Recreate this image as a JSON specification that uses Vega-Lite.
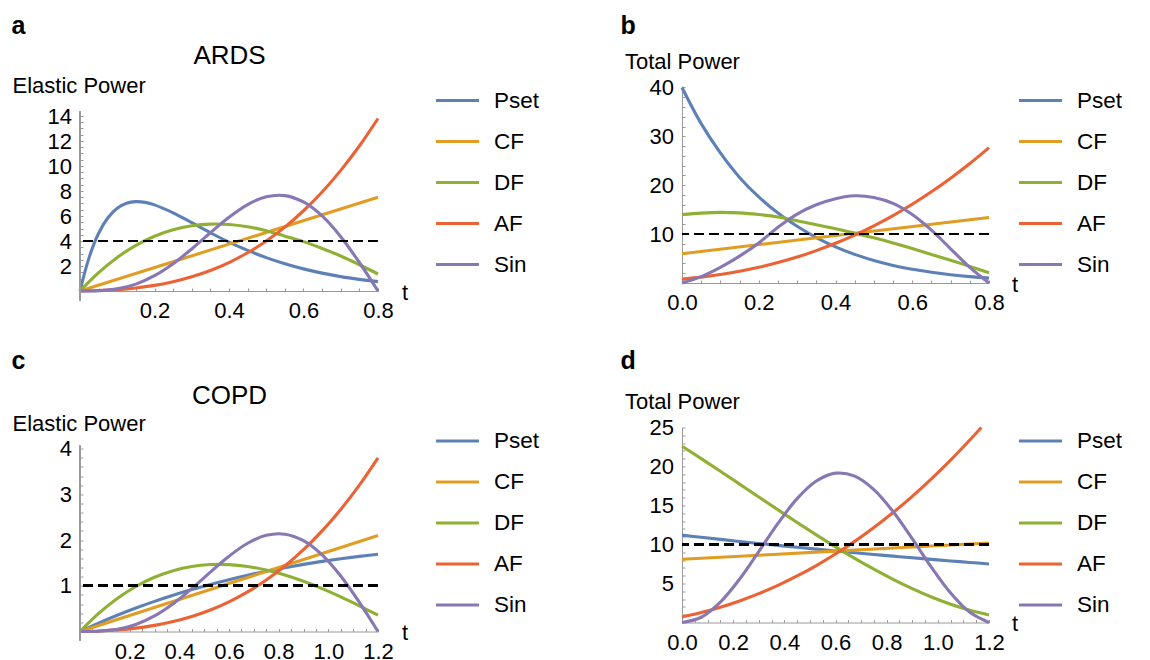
{
  "$schema": "https://vega.github.io/schema/vega-lite/v6.json",
  "background": "white",
  "padding": {"left": 11, "top": 13, "right": 0, "bottom": 0},
  "bounds": "flush",
  "columns": 2,
  "spacing": {"row": 136.5, "column": 304},
  "resolve": {"scale": {"color": "independent"}, "legend": {"color": "independent"}},
  "config": {
    "view": {"stroke": null},
    "font": "Liberation Sans",
    "axis": {
      "labelFont": "Liberation Sans", "labelFontSize": 22, "labelColor": "black",
      "titleFont": "Liberation Sans", "titleColor": "black", "titleFontWeight": "normal", "titleFontSize": 22,
      "tickColor": "#9a9a9a", "domainColor": "#9a9a9a", "tickWidth": 1, "domainWidth": 1,
      "grid": false, "labelFlush": false, "labelOverlap": false, "labelBound": false
    },
    "legend": {
      "labelFont": "Liberation Sans", "labelFontSize": 22.5, "labelColor": "black",
      "symbolType": "stroke", "symbolSize": 1850, "symbolStrokeWidth": 3,
      "labelOffset": 13, "rowPadding": 6, "padding": 0, "offset": 0
    }
  },
  "datasets": {
    "A": [
      {"t":0,"v":0,"s":"Pset"},{"t":0.025,"v":2.73,"s":"Pset"},{"t":0.05,"v":4.62,"s":"Pset"},{"t":0.075,"v":5.86,"s":"Pset"},{"t":0.1,"v":6.62,"s":"Pset"},{"t":0.125,"v":7.02,"s":"Pset"},{"t":0.15,"v":7.15,"s":"Pset"},{"t":0.175,"v":7.09,"s":"Pset"},{"t":0.2,"v":6.89,"s":"Pset"},{"t":0.25,"v":6.25,"s":"Pset"},{"t":0.3,"v":5.47,"s":"Pset"},{"t":0.35,"v":4.66,"s":"Pset"},{"t":0.4,"v":3.91,"s":"Pset"},{"t":0.45,"v":3.25,"s":"Pset"},{"t":0.5,"v":2.67,"s":"Pset"},{"t":0.55,"v":2.18,"s":"Pset"},{"t":0.6,"v":1.77,"s":"Pset"},{"t":0.65,"v":1.43,"s":"Pset"},{"t":0.7,"v":1.15,"s":"Pset"},{"t":0.75,"v":0.93,"s":"Pset"},{"t":0.8,"v":0.75,"s":"Pset"},
      {"t":0,"v":0,"s":"CF"},{"t":0.4,"v":3.75,"s":"CF"},{"t":0.8,"v":7.5,"s":"CF"},
      {"t":0,"v":0,"s":"DF"},{"t":0.05,"v":1.475,"s":"DF"},{"t":0.1,"v":2.686,"s":"DF"},{"t":0.15,"v":3.65,"s":"DF"},{"t":0.2,"v":4.382,"s":"DF"},{"t":0.25,"v":4.899,"s":"DF"},{"t":0.3,"v":5.217,"s":"DF"},{"t":0.35,"v":5.352,"s":"DF"},{"t":0.4,"v":5.321,"s":"DF"},{"t":0.45,"v":5.139,"s":"DF"},{"t":0.5,"v":4.823,"s":"DF"},{"t":0.55,"v":4.389,"s":"DF"},{"t":0.6,"v":3.95,"s":"DF"},{"t":0.65,"v":3.4,"s":"DF"},{"t":0.7,"v":2.8,"s":"DF"},{"t":0.75,"v":2.1,"s":"DF"},{"t":0.8,"v":1.36,"s":"DF"},
      {"t":0,"v":0,"s":"AF"},{"t":0.05,"v":0.034,"s":"AF"},{"t":0.1,"v":0.11,"s":"AF"},{"t":0.15,"v":0.244,"s":"AF"},{"t":0.2,"v":0.449,"s":"AF"},{"t":0.25,"v":0.74,"s":"AF"},{"t":0.3,"v":1.132,"s":"AF"},{"t":0.35,"v":1.639,"s":"AF"},{"t":0.4,"v":2.276,"s":"AF"},{"t":0.45,"v":3.058,"s":"AF"},{"t":0.5,"v":3.999,"s":"AF"},{"t":0.55,"v":5.11,"s":"AF"},{"t":0.6,"v":6.42,"s":"AF"},{"t":0.65,"v":7.92,"s":"AF"},{"t":0.7,"v":9.65,"s":"AF"},{"t":0.75,"v":11.6,"s":"AF"},{"t":0.8,"v":13.8,"s":"AF"},
      {"t":0,"v":0,"s":"Sin"},{"t":0.05,"v":0.022,"s":"Sin"},{"t":0.1,"v":0.172,"s":"Sin"},{"t":0.15,"v":0.552,"s":"Sin"},{"t":0.2,"v":1.222,"s":"Sin"},{"t":0.25,"v":2.18,"s":"Sin"},{"t":0.3,"v":3.365,"s":"Sin"},{"t":0.35,"v":4.658,"s":"Sin"},{"t":0.4,"v":5.9,"s":"Sin"},{"t":0.45,"v":6.916,"s":"Sin"},{"t":0.5,"v":7.537,"s":"Sin"},{"t":0.55,"v":7.632,"s":"Sin"},{"t":0.6,"v":7.122,"s":"Sin"},{"t":0.65,"v":6.004,"s":"Sin"},{"t":0.7,"v":4.344,"s":"Sin"},{"t":0.75,"v":2.28,"s":"Sin"},{"t":0.8,"v":0,"s":"Sin"}
    ],
    "B": [
      {"t":0,"v":40,"s":"Pset"},{"t":0.05,"v":32.6,"s":"Pset"},{"t":0.1,"v":26.6,"s":"Pset"},{"t":0.15,"v":21.6,"s":"Pset"},{"t":0.2,"v":17.6,"s":"Pset"},{"t":0.25,"v":14.3,"s":"Pset"},{"t":0.3,"v":11.6,"s":"Pset"},{"t":0.35,"v":9.3,"s":"Pset"},{"t":0.4,"v":7.4,"s":"Pset"},{"t":0.45,"v":5.85,"s":"Pset"},{"t":0.5,"v":4.6,"s":"Pset"},{"t":0.55,"v":3.6,"s":"Pset"},{"t":0.6,"v":2.8,"s":"Pset"},{"t":0.65,"v":2.2,"s":"Pset"},{"t":0.7,"v":1.7,"s":"Pset"},{"t":0.75,"v":1.3,"s":"Pset"},{"t":0.8,"v":1.0,"s":"Pset"},
      {"t":0,"v":6.0,"s":"CF"},{"t":0.4,"v":9.7,"s":"CF"},{"t":0.8,"v":13.4,"s":"CF"},
      {"t":0,"v":14.0,"s":"DF"},{"t":0.05,"v":14.3,"s":"DF"},{"t":0.1,"v":14.45,"s":"DF"},{"t":0.15,"v":14.35,"s":"DF"},{"t":0.2,"v":14.0,"s":"DF"},{"t":0.25,"v":13.5,"s":"DF"},{"t":0.3,"v":12.75,"s":"DF"},{"t":0.35,"v":11.9,"s":"DF"},{"t":0.4,"v":11.1,"s":"DF"},{"t":0.45,"v":10.2,"s":"DF"},{"t":0.5,"v":9.25,"s":"DF"},{"t":0.55,"v":8.2,"s":"DF"},{"t":0.6,"v":7.05,"s":"DF"},{"t":0.65,"v":5.85,"s":"DF"},{"t":0.7,"v":4.65,"s":"DF"},{"t":0.75,"v":3.4,"s":"DF"},{"t":0.8,"v":2.1,"s":"DF"},
      {"t":0,"v":0.8,"s":"AF"},{"t":0.05,"v":1.2,"s":"AF"},{"t":0.1,"v":1.72,"s":"AF"},{"t":0.15,"v":2.39,"s":"AF"},{"t":0.2,"v":3.2,"s":"AF"},{"t":0.25,"v":4.17,"s":"AF"},{"t":0.3,"v":5.31,"s":"AF"},{"t":0.35,"v":6.63,"s":"AF"},{"t":0.4,"v":8.12,"s":"AF"},{"t":0.45,"v":9.8,"s":"AF"},{"t":0.5,"v":11.7,"s":"AF"},{"t":0.55,"v":13.8,"s":"AF"},{"t":0.6,"v":16.11,"s":"AF"},{"t":0.65,"v":18.65,"s":"AF"},{"t":0.7,"v":21.43,"s":"AF"},{"t":0.75,"v":24.44,"s":"AF"},{"t":0.8,"v":27.7,"s":"AF"},
      {"t":0,"v":0,"s":"Sin"},{"t":0.05,"v":1.3,"s":"Sin"},{"t":0.1,"v":3.2,"s":"Sin"},{"t":0.15,"v":5.5,"s":"Sin"},{"t":0.2,"v":8.2,"s":"Sin"},{"t":0.25,"v":11.4,"s":"Sin"},{"t":0.3,"v":14.1,"s":"Sin"},{"t":0.35,"v":16.0,"s":"Sin"},{"t":0.4,"v":17.25,"s":"Sin"},{"t":0.45,"v":17.85,"s":"Sin"},{"t":0.5,"v":17.5,"s":"Sin"},{"t":0.55,"v":16.3,"s":"Sin"},{"t":0.6,"v":14.0,"s":"Sin"},{"t":0.65,"v":10.8,"s":"Sin"},{"t":0.7,"v":7.0,"s":"Sin"},{"t":0.75,"v":3.2,"s":"Sin"},{"t":0.8,"v":0,"s":"Sin"}
    ],
    "C": [
      {"t":0,"v":0,"s":"Pset"},{"t":0.075,"v":0.184,"s":"Pset"},{"t":0.15,"v":0.355,"s":"Pset"},{"t":0.225,"v":0.513,"s":"Pset"},{"t":0.3,"v":0.659,"s":"Pset"},{"t":0.375,"v":0.793,"s":"Pset"},{"t":0.45,"v":0.917,"s":"Pset"},{"t":0.525,"v":1.031,"s":"Pset"},{"t":0.6,"v":1.135,"s":"Pset"},{"t":0.675,"v":1.231,"s":"Pset"},{"t":0.75,"v":1.318,"s":"Pset"},{"t":0.825,"v":1.397,"s":"Pset"},{"t":0.9,"v":1.469,"s":"Pset"},{"t":0.975,"v":1.534,"s":"Pset"},{"t":1.05,"v":1.592,"s":"Pset"},{"t":1.125,"v":1.644,"s":"Pset"},{"t":1.2,"v":1.691,"s":"Pset"},
      {"t":0,"v":0,"s":"CF"},{"t":0.6,"v":1.05,"s":"CF"},{"t":1.2,"v":2.1,"s":"CF"},
      {"t":0,"v":0,"s":"DF"},{"t":0.075,"v":0.396,"s":"DF"},{"t":0.15,"v":0.723,"s":"DF"},{"t":0.225,"v":0.985,"s":"DF"},{"t":0.3,"v":1.186,"s":"DF"},{"t":0.375,"v":1.33,"s":"DF"},{"t":0.45,"v":1.422,"s":"DF"},{"t":0.525,"v":1.465,"s":"DF"},{"t":0.6,"v":1.464,"s":"DF"},{"t":0.675,"v":1.422,"s":"DF"},{"t":0.75,"v":1.345,"s":"DF"},{"t":0.825,"v":1.235,"s":"DF"},{"t":0.9,"v":1.098,"s":"DF"},{"t":0.975,"v":0.937,"s":"DF"},{"t":1.05,"v":0.757,"s":"DF"},{"t":1.125,"v":0.562,"s":"DF"},{"t":1.2,"v":0.356,"s":"DF"},
      {"t":0,"v":0,"s":"AF"},{"t":0.075,"v":0.011,"s":"AF"},{"t":0.15,"v":0.035,"s":"AF"},{"t":0.225,"v":0.074,"s":"AF"},{"t":0.3,"v":0.134,"s":"AF"},{"t":0.375,"v":0.217,"s":"AF"},{"t":0.45,"v":0.329,"s":"AF"},{"t":0.525,"v":0.471,"s":"AF"},{"t":0.6,"v":0.649,"s":"AF"},{"t":0.675,"v":0.866,"s":"AF"},{"t":0.75,"v":1.126,"s":"AF"},{"t":0.825,"v":1.432,"s":"AF"},{"t":0.9,"v":1.789,"s":"AF"},{"t":0.975,"v":2.201,"s":"AF"},{"t":1.05,"v":2.671,"s":"AF"},{"t":1.125,"v":3.203,"s":"AF"},{"t":1.2,"v":3.8,"s":"AF"},
      {"t":0,"v":0,"s":"Sin"},{"t":0.075,"v":0.006,"s":"Sin"},{"t":0.15,"v":0.048,"s":"Sin"},{"t":0.225,"v":0.154,"s":"Sin"},{"t":0.3,"v":0.341,"s":"Sin"},{"t":0.375,"v":0.609,"s":"Sin"},{"t":0.45,"v":0.939,"s":"Sin"},{"t":0.525,"v":1.3,"s":"Sin"},{"t":0.6,"v":1.647,"s":"Sin"},{"t":0.675,"v":1.931,"s":"Sin"},{"t":0.75,"v":2.104,"s":"Sin"},{"t":0.825,"v":2.13,"s":"Sin"},{"t":0.9,"v":1.988,"s":"Sin"},{"t":0.975,"v":1.676,"s":"Sin"},{"t":1.05,"v":1.213,"s":"Sin"},{"t":1.125,"v":0.637,"s":"Sin"},{"t":1.2,"v":0,"s":"Sin"}
    ],
    "D": [
      {"t":0,"v":11.2,"s":"Pset"},{"t":0.075,"v":10.923,"s":"Pset"},{"t":0.15,"v":10.654,"s":"Pset"},{"t":0.225,"v":10.391,"s":"Pset"},{"t":0.3,"v":10.134,"s":"Pset"},{"t":0.375,"v":9.884,"s":"Pset"},{"t":0.45,"v":9.64,"s":"Pset"},{"t":0.525,"v":9.402,"s":"Pset"},{"t":0.6,"v":9.17,"s":"Pset"},{"t":0.675,"v":8.943,"s":"Pset"},{"t":0.75,"v":8.723,"s":"Pset"},{"t":0.825,"v":8.507,"s":"Pset"},{"t":0.9,"v":8.297,"s":"Pset"},{"t":0.975,"v":8.092,"s":"Pset"},{"t":1.05,"v":7.893,"s":"Pset"},{"t":1.125,"v":7.698,"s":"Pset"},{"t":1.2,"v":7.508,"s":"Pset"},
      {"t":0,"v":8.1,"s":"CF"},{"t":0.6,"v":9.15,"s":"CF"},{"t":1.2,"v":10.2,"s":"CF"},
      {"t":0,"v":22.6,"s":"DF"},{"t":0.075,"v":21.01,"s":"DF"},{"t":0.15,"v":19.39,"s":"DF"},{"t":0.225,"v":17.74,"s":"DF"},{"t":0.3,"v":16.09,"s":"DF"},{"t":0.375,"v":14.45,"s":"DF"},{"t":0.45,"v":12.82,"s":"DF"},{"t":0.525,"v":11.23,"s":"DF"},{"t":0.6,"v":9.69,"s":"DF"},{"t":0.675,"v":8.22,"s":"DF"},{"t":0.75,"v":6.83,"s":"DF"},{"t":0.825,"v":5.53,"s":"DF"},{"t":0.9,"v":4.34,"s":"DF"},{"t":0.975,"v":3.27,"s":"DF"},{"t":1.05,"v":2.34,"s":"DF"},{"t":1.125,"v":1.56,"s":"DF"},{"t":1.2,"v":0.95,"s":"DF"},
      {"t":0,"v":0.7,"s":"AF"},{"t":0.075,"v":1.268,"s":"AF"},{"t":0.15,"v":1.955,"s":"AF"},{"t":0.225,"v":2.763,"s":"AF"},{"t":0.3,"v":3.699,"s":"AF"},{"t":0.375,"v":4.764,"s":"AF"},{"t":0.45,"v":5.962,"s":"AF"},{"t":0.525,"v":7.299,"s":"AF"},{"t":0.6,"v":8.776,"s":"AF"},{"t":0.675,"v":10.399,"s":"AF"},{"t":0.75,"v":12.17,"s":"AF"},{"t":0.825,"v":14.095,"s":"AF"},{"t":0.9,"v":16.176,"s":"AF"},{"t":0.975,"v":18.417,"s":"AF"},{"t":1.05,"v":20.822,"s":"AF"},{"t":1.125,"v":23.395,"s":"AF"},{"t":1.17,"v":25.0,"s":"AF"},
      {"t":0,"v":0,"s":"Sin"},{"t":0.075,"v":0.672,"s":"Sin"},{"t":0.15,"v":2.611,"s":"Sin"},{"t":0.225,"v":5.556,"s":"Sin"},{"t":0.3,"v":9.091,"s":"Sin"},{"t":0.375,"v":12.707,"s":"Sin"},{"t":0.45,"v":15.876,"s":"Sin"},{"t":0.525,"v":18.134,"s":"Sin"},{"t":0.6,"v":19.147,"s":"Sin"},{"t":0.675,"v":18.765,"s":"Sin"},{"t":0.75,"v":17.041,"s":"Sin"},{"t":0.825,"v":14.228,"s":"Sin"},{"t":0.9,"v":10.738,"s":"Sin"},{"t":0.975,"v":7.078,"s":"Sin"},{"t":1.05,"v":3.776,"s":"Sin"},{"t":1.125,"v":1.303,"s":"Sin"},{"t":1.2,"v":0,"s":"Sin"}
    ]
  },
  "concat": [
    {
      "width": 298, "height": 205,
      "data": {"name": "A"},
      "layer": [
        {
          "mark": {"type": "line", "strokeWidth": 3.1, "interpolate": "catmull-rom"},
          "encoding": {
            "x": {"field": "t", "type": "quantitative", "scale": {"domain": [0, 0.8], "nice": false, "zero": false},
              "axis": {"orient": "bottom", "values": [0.05,0.1,0.15,0.2,0.25,0.3,0.35,0.4,0.45,0.5,0.55,0.6,0.65,0.7,0.75,0.8],
                "labelExpr": "datum.value > 0.01 && round(datum.value*20) % 4 == 0 ? format(datum.value, '.1f') : ''",
                "tickSize": -3, "labelPadding": 29.5, "labelBaseline": "alphabetic", "labelAlign": "center",
                "title": "t", "titleX": 321.5, "titleY": 8, "titleAlign": "left", "titleBaseline": "alphabetic", "titleFontSize": 22}},
            "y": {"field": "v", "type": "quantitative", "scale": {"domain": [0, 16.4], "nice": false},
              "axis": {"orient": "left", "domain": false, "values": [0.5,1,1.5,2,2.5,3,3.5,4,4.5,5,5.5,6,6.5,7,7.5,8,8.5,9,9.5,10,10.5,11,11.5,12,12.5,13,13.5,14],
                "labelExpr": "round(datum.value*2) % 4 == 0 ? format(datum.value, 'd') : ''",
                "tickSize": -3, "labelPadding": 11.5, "labelBaseline": "middle", "labelAlign": "right",
                "title": "Elastic Power", "titleAngle": 0, "titleX": -68, "titleY": 6, "titleAlign": "left", "titleBaseline": "alphabetic", "titleFontSize": 22}},
            "color": {"field": "s", "type": "nominal",
              "scale": {"domain": ["Pset","CF","DF","AF","Sin"], "range": ["#5E81B5","#E19C24","#8FB032","#EB6235","#8778B3"]},
              "legend": {"orient": "none", "legendX": 354, "legendY": -9, "title": null}}
          }
        },
        {
          "mark": {"type": "rule", "color": "black", "strokeWidth": 2, "strokeDash": [10, 5]},
          "encoding": {
            "y": {"datum": 4, "type": "quantitative",
              "axis": {"orient": "right", "labels": false, "ticks": false, "domain": false,
                "title": "a", "titleAngle": 0, "titleX": -367, "titleY": -52.7, "titleAlign": "left", "titleBaseline": "alphabetic", "titleFontSize": 25, "titleFontWeight": "bold"}}
          }
        },
        {
          "mark": {"type": "rule", "color": "#9a9a9a", "strokeWidth": 1},
          "encoding": {
            "x": {"datum": 0, "type": "quantitative",
              "axis": {"orient": "top", "labels": false, "ticks": false, "domain": false,
                "title": "ARDS", "titleX": 149, "titleY": -22.7, "titleAlign": "center", "titleBaseline": "alphabetic", "titleFontSize": 26}},
            "y": {"datum": -0.8, "type": "quantitative", "axis": null},
            "y2": {"datum": 14.4}
          }
        }
      ]
    },
    {
      "width": 307, "height": 197,
      "data": {"name": "B"},
      "layer": [
        {
          "mark": {"type": "line", "strokeWidth": 3.1, "interpolate": "catmull-rom"},
          "encoding": {
            "x": {"field": "t", "type": "quantitative", "scale": {"domain": [0, 0.8], "nice": false, "zero": false},
              "axis": {"orient": "bottom", "values": [0,0.05,0.1,0.15,0.2,0.25,0.3,0.35,0.4,0.45,0.5,0.55,0.6,0.65,0.7,0.75,0.8],
                "labelExpr": "round(datum.value*20) % 4 == 0 ? format(datum.value, '.1f') : ''",
                "tickSize": -3, "labelPadding": 29.5, "labelBaseline": "alphabetic", "labelAlign": "center",
                "title": "t", "titleX": 329.5, "titleY": 8, "titleAlign": "left", "titleBaseline": "alphabetic", "titleFontSize": 22}},
            "y": {"field": "v", "type": "quantitative", "scale": {"domain": [0, 40.3], "nice": false},
              "axis": {"orient": "left", "values": [2,4,6,8,10,12,14,16,18,20,22,24,26,28,30,32,34,36,38,40],
                "labelExpr": "round(datum.value) % 10 == 0 ? format(datum.value, 'd') : ''",
                "tickSize": -3, "labelPadding": 11.5, "labelBaseline": "middle", "labelAlign": "right",
                "title": "Total Power", "titleAngle": 0, "titleX": -57.5, "titleY": -17.7, "titleAlign": "left", "titleBaseline": "alphabetic", "titleFontSize": 22}},
            "color": {"field": "s", "type": "nominal",
              "scale": {"domain": ["Pset","CF","DF","AF","Sin"], "range": ["#5E81B5","#E19C24","#8FB032","#EB6235","#8778B3"]},
              "legend": {"orient": "none", "legendX": 335, "legendY": -9, "title": null}}
          }
        },
        {
          "mark": {"type": "rule", "color": "black", "strokeWidth": 2, "strokeDash": [10, 5]},
          "encoding": {
            "y": {"datum": 10, "type": "quantitative",
              "axis": {"orient": "right", "labels": false, "ticks": false, "domain": false,
                "title": "b", "titleAngle": 0, "titleX": -369, "titleY": -52.7, "titleAlign": "left", "titleBaseline": "alphabetic", "titleFontSize": 25, "titleFontWeight": "bold"}}
          }
        }
      ]
    },
    {
      "width": 298, "height": 204,
      "data": {"name": "C"},
      "layer": [
        {
          "mark": {"type": "line", "strokeWidth": 3.1, "interpolate": "catmull-rom"},
          "encoding": {
            "x": {"field": "t", "type": "quantitative", "scale": {"domain": [0, 1.2], "nice": false, "zero": false},
              "axis": {"orient": "bottom", "values": [0.05,0.1,0.15,0.2,0.25,0.3,0.35,0.4,0.45,0.5,0.55,0.6,0.65,0.7,0.75,0.8,0.85,0.9,0.95,1,1.05,1.1,1.15,1.2],
                "labelExpr": "datum.value > 0.01 && round(datum.value*20) % 4 == 0 ? format(datum.value, '.1f') : ''",
                "tickSize": -3, "labelPadding": 29.5, "labelBaseline": "alphabetic", "labelAlign": "center",
                "title": "t", "titleX": 321.5, "titleY": 8, "titleAlign": "left", "titleBaseline": "alphabetic", "titleFontSize": 22}},
            "y": {"field": "v", "type": "quantitative", "scale": {"domain": [0, 4.464], "nice": false},
              "axis": {"orient": "left", "domain": false, "values": [0.2,0.4,0.6,0.8,1,1.2,1.4,1.6,1.8,2,2.2,2.4,2.6,2.8,3,3.2,3.4,3.6,3.8,4],
                "labelExpr": "abs(datum.value - round(datum.value)) < 0.001 ? format(datum.value, 'd') : ''",
                "tickSize": -3, "labelPadding": 11.5, "labelBaseline": "middle", "labelAlign": "right",
                "title": "Elastic Power", "titleAngle": 0, "titleX": -68, "titleY": 2.5, "titleAlign": "left", "titleBaseline": "alphabetic", "titleFontSize": 22}},
            "color": {"field": "s", "type": "nominal",
              "scale": {"domain": ["Pset","CF","DF","AF","Sin"], "range": ["#5E81B5","#E19C24","#8FB032","#EB6235","#8778B3"]},
              "legend": {"orient": "none", "legendX": 354, "legendY": -10, "title": null}}
          }
        },
        {
          "mark": {"type": "rule", "color": "black", "strokeWidth": 2, "strokeDash": [10, 5]},
          "encoding": {
            "y": {"datum": 1, "type": "quantitative",
              "axis": {"orient": "right", "labels": false, "ticks": false, "domain": false,
                "title": "c", "titleAngle": 0, "titleX": -367, "titleY": -59.2, "titleAlign": "left", "titleBaseline": "alphabetic", "titleFontSize": 25, "titleFontWeight": "bold"}}
          }
        },
        {
          "mark": {"type": "rule", "color": "#9a9a9a", "strokeWidth": 1},
          "encoding": {
            "x": {"datum": 0, "type": "quantitative",
              "axis": {"orient": "top", "labels": false, "ticks": false, "domain": false,
                "title": "COPD", "titleX": 149, "titleY": -24.2, "titleAlign": "center", "titleBaseline": "alphabetic", "titleFontSize": 26}},
            "y": {"datum": -0.2, "type": "quantitative", "axis": null},
            "y2": {"datum": 4.06}
          }
        }
      ]
    },
    {
      "width": 307, "height": 195,
      "data": {"name": "D"},
      "layer": [
        {
          "mark": {"type": "line", "strokeWidth": 3.1, "interpolate": "catmull-rom"},
          "encoding": {
            "x": {"field": "t", "type": "quantitative", "scale": {"domain": [0, 1.2], "nice": false, "zero": false},
              "axis": {"orient": "bottom", "values": [0,0.05,0.1,0.15,0.2,0.25,0.3,0.35,0.4,0.45,0.5,0.55,0.6,0.65,0.7,0.75,0.8,0.85,0.9,0.95,1,1.05,1.1,1.15,1.2],
                "labelExpr": "round(datum.value*20) % 4 == 0 ? format(datum.value, '.1f') : ''",
                "tickSize": -3, "labelPadding": 29.5, "labelBaseline": "alphabetic", "labelAlign": "center",
                "title": "t", "titleX": 329.5, "titleY": 8, "titleAlign": "left", "titleBaseline": "alphabetic", "titleFontSize": 22}},
            "y": {"field": "v", "type": "quantitative", "scale": {"domain": [0, 25], "nice": false},
              "axis": {"orient": "left", "values": [1,2,3,4,5,6,7,8,9,10,11,12,13,14,15,16,17,18,19,20,21,22,23,24,25],
                "labelExpr": "round(datum.value) % 5 == 0 ? format(datum.value, 'd') : ''",
                "tickSize": -3, "labelPadding": 11.5, "labelBaseline": "middle", "labelAlign": "right",
                "title": "Total Power", "titleAngle": 0, "titleX": -57.5, "titleY": -19.2, "titleAlign": "left", "titleBaseline": "alphabetic", "titleFontSize": 22}},
            "color": {"field": "s", "type": "nominal",
              "scale": {"domain": ["Pset","CF","DF","AF","Sin"], "range": ["#5E81B5","#E19C24","#8FB032","#EB6235","#8778B3"]},
              "legend": {"orient": "none", "legendX": 335, "legendY": -10, "title": null}}
          }
        },
        {
          "mark": {"type": "rule", "color": "black", "strokeWidth": 2, "strokeDash": [10, 5]},
          "encoding": {
            "y": {"datum": 10, "type": "quantitative",
              "axis": {"orient": "right", "labels": false, "ticks": false, "domain": false,
                "title": "d", "titleAngle": 0, "titleX": -369, "titleY": -59.2, "titleAlign": "left", "titleBaseline": "alphabetic", "titleFontSize": 25, "titleFontWeight": "bold"}}
          }
        }
      ]
    }
  ]
}
